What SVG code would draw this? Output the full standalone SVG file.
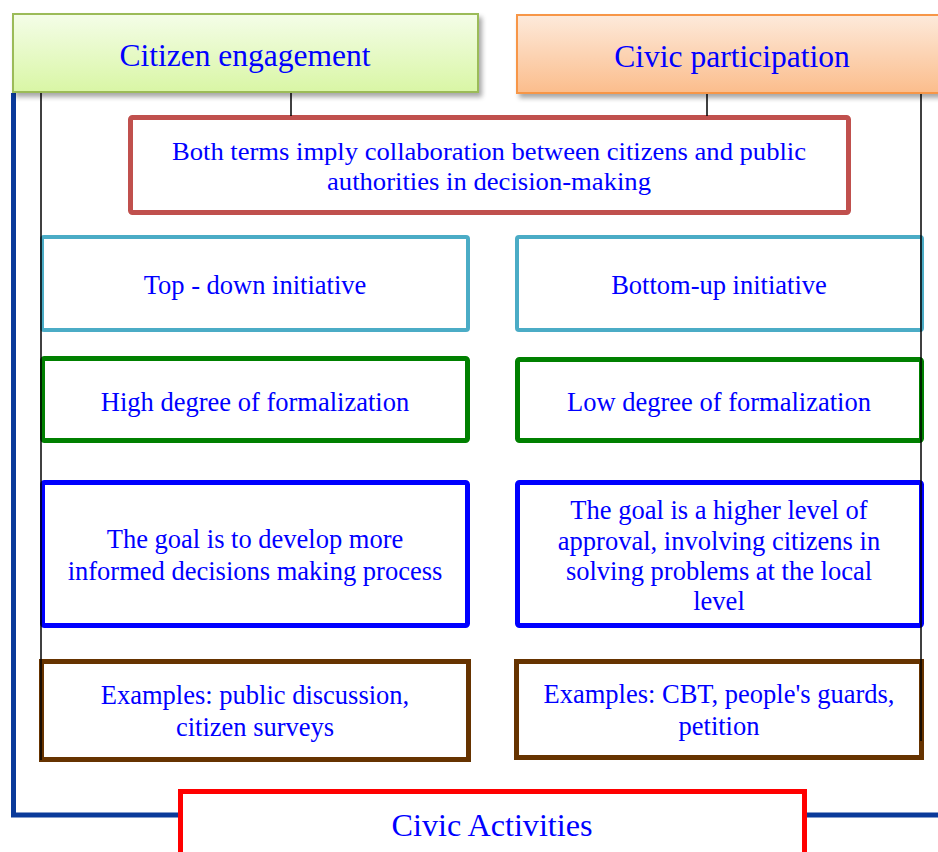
<svg xmlns="http://www.w3.org/2000/svg" width="938" height="852" viewBox="0 0 938 852">
  <defs>
    <linearGradient id="gGreen" x1="0" y1="0" x2="0" y2="1">
      <stop offset="0" stop-color="#f4fde8"/>
      <stop offset="1" stop-color="#d9f6a5"/>
    </linearGradient>
    <linearGradient id="gOrange" x1="0" y1="0" x2="0" y2="1">
      <stop offset="0" stop-color="#fdeadb"/>
      <stop offset="1" stop-color="#fbbd8c"/>
    </linearGradient>
    <filter id="shadow" x="-5%" y="-10%" width="115%" height="140%">
      <feGaussianBlur in="SourceAlpha" stdDeviation="2.5"/>
      <feOffset dx="3" dy="4" result="b"/>
      <feComponentTransfer><feFuncA type="linear" slope="0.35"/></feComponentTransfer>
      <feMerge><feMergeNode/><feMergeNode in="SourceGraphic"/></feMerge>
    </filter>
  </defs>
  <style>
    text { font-family: "Liberation Serif", "Times New Roman", serif; fill: #0000ff; text-anchor: middle; }
    .t { font-size: 26.5px; }
    .title { font-size: 31.5px; }
    .box { fill: #ffffff; }
    .cyan { stroke: #4bacc6; stroke-width: 4; }
    .green { stroke: #008000; stroke-width: 5; }
    .blue { stroke: #0000ff; stroke-width: 5; }
    .brown { stroke: #663300; stroke-width: 5; }
    .conn { stroke: #000000; stroke-width: 1.5; fill: none; }
  </style>
  <rect width="938" height="852" fill="#ffffff"/>

  <g id="connectors-frame">
    <polyline points="13.5,93 13.5,815 938,815" fill="none" stroke="#0a3a9a" stroke-width="5"/>
  </g>

  <g id="citizen-engagement">
    <rect x="13" y="14" width="465" height="78" fill="url(#gGreen)" stroke="#9bbb59" stroke-width="2" filter="url(#shadow)"/>
    <text class="title" x="245" y="66">Citizen engagement</text>
  </g>
  <g id="civic-participation">
    <rect x="517" y="15" width="430" height="78" fill="url(#gOrange)" stroke="#f79646" stroke-width="2" filter="url(#shadow)"/>
    <text class="title" x="732" y="67">Civic participation</text>
  </g>

  <g id="both-terms">
    <rect class="box" x="130.5" y="117.5" width="718" height="95" rx="2" stroke="#c0504d" stroke-width="5"/>
    <text x="489" y="160" font-size="26" textLength="634" lengthAdjust="spacingAndGlyphs">Both terms imply collaboration between citizens and public</text>
    <text x="489" y="190" font-size="26" textLength="324" lengthAdjust="spacingAndGlyphs">authorities in decision-making</text>
  </g>

  <g id="top-down">
    <rect class="box cyan" x="42" y="237" width="426" height="93" rx="2"/>
    <text class="t" x="255" y="294">Top - down initiative</text>
  </g>
  <g id="bottom-up">
    <rect class="box cyan" x="517" y="237" width="405" height="93" rx="2"/>
    <text class="t" x="719" y="294">Bottom-up initiative</text>
  </g>

  <g id="high-formalization">
    <rect class="box green" x="42.5" y="358.5" width="425" height="82" rx="2"/>
    <text class="t" x="255" y="411">High degree of formalization</text>
  </g>
  <g id="low-formalization">
    <rect class="box green" x="517.5" y="359.5" width="404" height="81" rx="2"/>
    <text class="t" x="719" y="411">Low degree of formalization</text>
  </g>

  <g id="goal-left">
    <rect class="box blue" x="42.5" y="482.5" width="425" height="143" rx="2"/>
    <text class="t" x="255" y="548">The goal is to develop more</text>
    <text class="t" x="255" y="580">informed decisions making process</text>
  </g>
  <g id="goal-right">
    <rect class="box blue" x="517.5" y="482.5" width="404" height="143" rx="2"/>
    <text class="t" x="719" y="519">The goal is a higher level of</text>
    <text class="t" x="719" y="550">approval, involving citizens in</text>
    <text class="t" x="719" y="580">solving problems at the local</text>
    <text class="t" x="719" y="610">level</text>
  </g>

  <g id="examples-left">
    <rect class="box brown" x="41.5" y="661.5" width="427" height="98"/>
    <text class="t" x="255" y="704">Examples: public discussion,</text>
    <text class="t" x="255" y="736">citizen surveys</text>
  </g>
  <g id="examples-right">
    <rect class="box brown" x="516.5" y="661.5" width="405" height="96"/>
    <text class="t" x="719" y="703">Examples: CBT, people's guards,</text>
    <text class="t" x="719" y="735">petition</text>
  </g>

  <g id="connectors">
    <line class="conn" x1="41" y1="93" x2="41" y2="760"/>
    <line class="conn" x1="921" y1="94" x2="921" y2="741"/>
    <line class="conn" x1="291" y1="93" x2="291" y2="116"/>
    <line class="conn" x1="707" y1="94" x2="707" y2="116"/>
  </g>

  <g id="civic-activities">
    <rect class="box" x="180.5" y="791.5" width="624" height="80" stroke="#ff0000" stroke-width="5"/>
    <text x="492" y="836" font-size="32" textLength="201" lengthAdjust="spacingAndGlyphs">Civic Activities</text>
  </g>
</svg>
